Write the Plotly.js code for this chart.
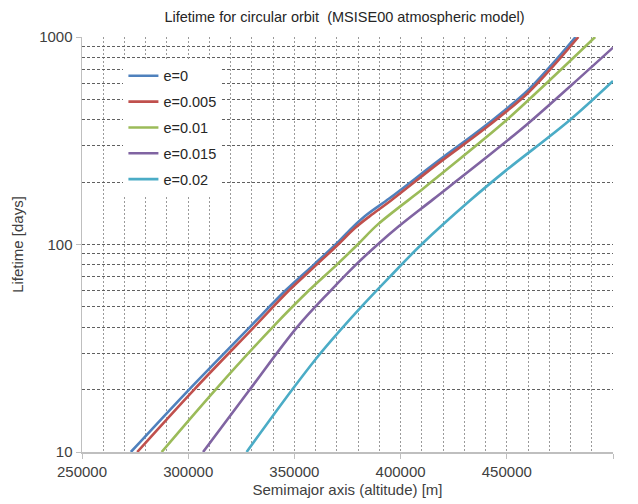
<!DOCTYPE html>
<html>
<head>
<meta charset="utf-8">
<script src="https://cdn.plot.ly/plotly-3.0.1.min.js"></script>
<style>html,body{margin:0;padding:0;background:#fff;}#chart{width:638px;height:504px;}</style>
</head>
<body>
<div id="chart"></div>
<script>
// Series names
const seriesNames = ["e=0", "e=0.005", "e=0.01", "e=0.015", "e=0.02"];

// Semimajor axis (altitude) [m] and lifetime [days]
const xE0 = [273000, 300400, 329000, 345800, 359200, 369400, 377000, 384000, 394800, 418200, 439400, 459600, 471400, 482400];
const yE0 = [10, 20, 40, 60, 80, 100, 120, 139, 167, 255, 370, 550, 740, 1000];

const xE005 = [276000, 302800, 331000, 347400, 360500, 370600, 378500, 385500, 395500, 418200, 439400, 459600, 471400, 483700];
const yE005 = [10, 20, 40, 60, 80, 100, 120, 137, 163, 248, 360, 533, 715, 1000];

const xE01 = [287500, 312900, 339800, 356800, 370000, 379800, 389300, 410400, 418200, 449500, 469800, 491600];
const yE01 = [10, 20, 40, 60, 80, 100, 125, 185, 215, 395, 614, 1000];

const xE015 = [307000, 329000, 351300, 367100, 379000, 389200, 399000, 415300, 439400, 459600, 480900, 500000];
const yE015 = [10, 20, 40, 60, 80, 100, 122, 165, 258, 380, 592, 889];

const xE02 = [327500, 349000, 360000, 371000, 383000, 395000, 409800, 432400, 449500, 479300, 500000];
const yE02 = [10, 20, 28, 38, 52, 70, 100, 162, 227, 395, 614];

const xTickVals = [250000, 300000, 350000, 400000, 450000, 500000];
const xTickText = ["250000", "300000", "350000", "400000", "450000", "500000"];
const yTickVals = [10, 100, 1000];
const yTickText = ["10", "100", "1000"];

const colors = ["#4F81BD", "#C0504D", "#9BBB59", "#8064A2", "#4BACC6"];
const xs = [xE0, xE005, xE01, xE015, xE02];
const ys = [yE0, yE005, yE01, yE015, yE02];

const traces = seriesNames.map((n, i) => ({
  type: "scatter",
  mode: "lines",
  name: n,
  x: xs[i],
  y: ys[i],
  legendgroup: "g" + i,
  line: {color: colors[i], width: 2.6, shape: "spline", smoothing: 1.0},
  hoverinfo: "skip"
}));

const fontFam = "Liberation Sans, Arial, sans-serif";
const layout = {
  width: 638,
  height: 504,
  margin: {l: 82, r: 25, t: 37, b: 52},
  paper_bgcolor: "#ffffff",
  plot_bgcolor: "#ffffff",
  font: {family: fontFam, size: 15, color: "#404040"},
  title: {
    text: "Lifetime for circular orbit  (MSISE00 atmospheric model)",
    font: {family: fontFam, size: 14.5, color: "#262626"},
    x: 0.54, xanchor: "center", y: 0.966, yanchor: "middle"
  },
  showlegend: true,
  legend: {
    x: 0.078, y: 0.945, xanchor: "left", yanchor: "top",
    bgcolor: "#ffffff",
    font: {family: fontFam, size: 14.5, color: "#262626"},
    traceorder: "grouped",
    tracegroupgap: 4,
    entrywidth: 120
  },
  xaxis: {
    range: [250000, 500000],
    tickvals: xTickVals,
    ticktext: xTickText,
    showline: true, linecolor: "#bfbfbf", linewidth: 1.5,
    ticks: "outside", ticklen: 5, tickcolor: "#bfbfbf",
    showgrid: true, gridcolor: "#9a9a9a", griddash: "2px,2px", gridwidth: 1,
    minor: {dtick: 10000, showgrid: true, gridcolor: "#9a9a9a", griddash: "2px,2px", gridwidth: 1, ticks: ""},
    zeroline: false,
    tickfont: {size: 15, color: "#404040"},
    title: {text: "Semimajor axis (altitude) [m]", font: {size: 15, color: "#404040"}, standoff: 6}
  },
  yaxis: {
    type: "log",
    range: [1, 3],
    tickvals: yTickVals,
    ticktext: yTickText,
    showline: true, linecolor: "#bfbfbf", linewidth: 1.5,
    ticks: "outside", ticklen: 5, tickcolor: "#bfbfbf",
    showgrid: true, gridcolor: "#606060", griddash: "3px,2px", gridwidth: 1,
    minor: {dtick: "D1", showgrid: true, gridcolor: "#606060", griddash: "3px,2px", gridwidth: 1, ticks: ""},
    zeroline: false,
    tickfont: {size: 15, color: "#404040"},
    title: {text: "Lifetime [days]", font: {size: 15, color: "#404040"}, standoff: 12}
  }
};

Plotly.newPlot("chart", traces, layout, {staticPlot: true, displayModeBar: false});
</script>
</body>
</html>
